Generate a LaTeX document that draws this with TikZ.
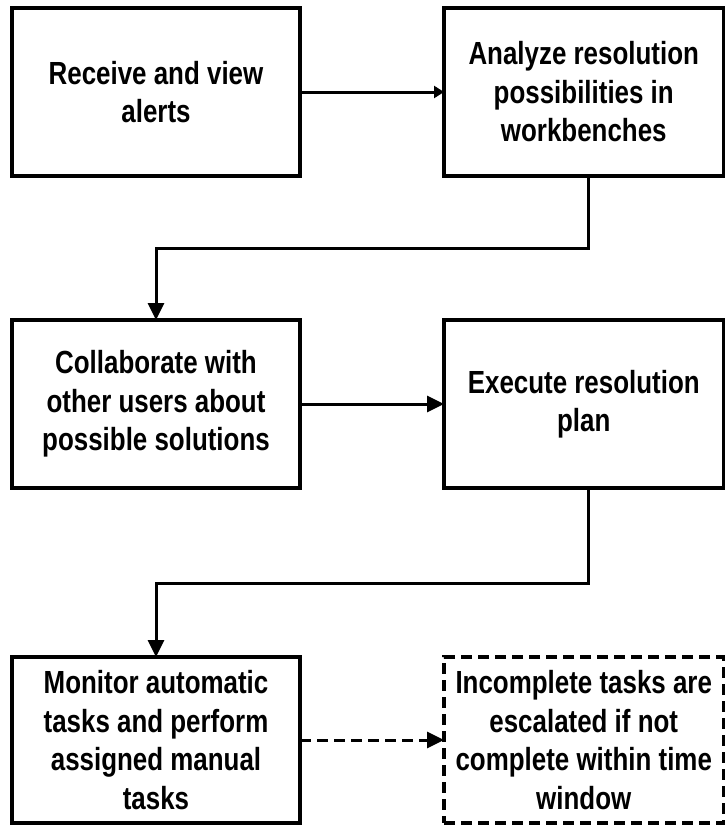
\documentclass[tikz,border=0pt]{standalone}
\usepackage{fontspec}
\setmainfont{Liberation Sans}[FakeStretch=0.81]
\usetikzlibrary{arrows.meta}
\begin{document}
\begin{tikzpicture}[x=1pt,y=-1pt,
  box/.style={draw,line width=3.5pt,rectangle,outer sep=0pt,align=center,
    font=\fontsize{32}{38.5}\selectfont\bfseries},
  leftbox/.style={box,minimum width=288pt},
  rightbox/.style={box,minimum width=279.5pt},
  conn/.style={line width=3pt,-{Triangle[length=17pt,width=16pt]}},
  smallconn/.style={line width=3pt,-{Triangle[length=10pt,width=12pt]}}]
\useasboundingbox (0,0) rectangle (726,827);
\node[leftbox,minimum height=168pt] (a) at (156,92) {Receive and view\\alerts};
\node[rightbox,minimum height=168pt] (b) at (583.75,92) {Analyze resolution\\possibilities in\\workbenches};
\node[leftbox,minimum height=168pt] (c) at (156,404) {Collaborate with\\other users about\\possible solutions};
\node[rightbox,minimum height=168pt] (d) at (583.75,404) {Execute resolution\\plan};
\node[leftbox,minimum height=166pt] (e) at (156,740) {Monitor automatic\\tasks and perform\\assigned manual\\tasks};
\node[rightbox,minimum height=166pt,dash pattern=on 11pt off 6pt] (f) at (583.75,740) {Incomplete tasks are\\escalated if not\\complete within time\\window};
\draw[smallconn] (a.east) -- (b.west);
\draw[conn] ([xshift=4.5pt]b.south) -- ++(0,72) -| (c.north);
\draw[conn] (c.east) -- (d.west);
\draw[conn] ([xshift=4.5pt]d.south) -- ++(0,95) -| (e.north);
\draw[conn,dash pattern=on 11pt off 6pt] (e.east) -- (f.west);
\end{tikzpicture}
\end{document}
